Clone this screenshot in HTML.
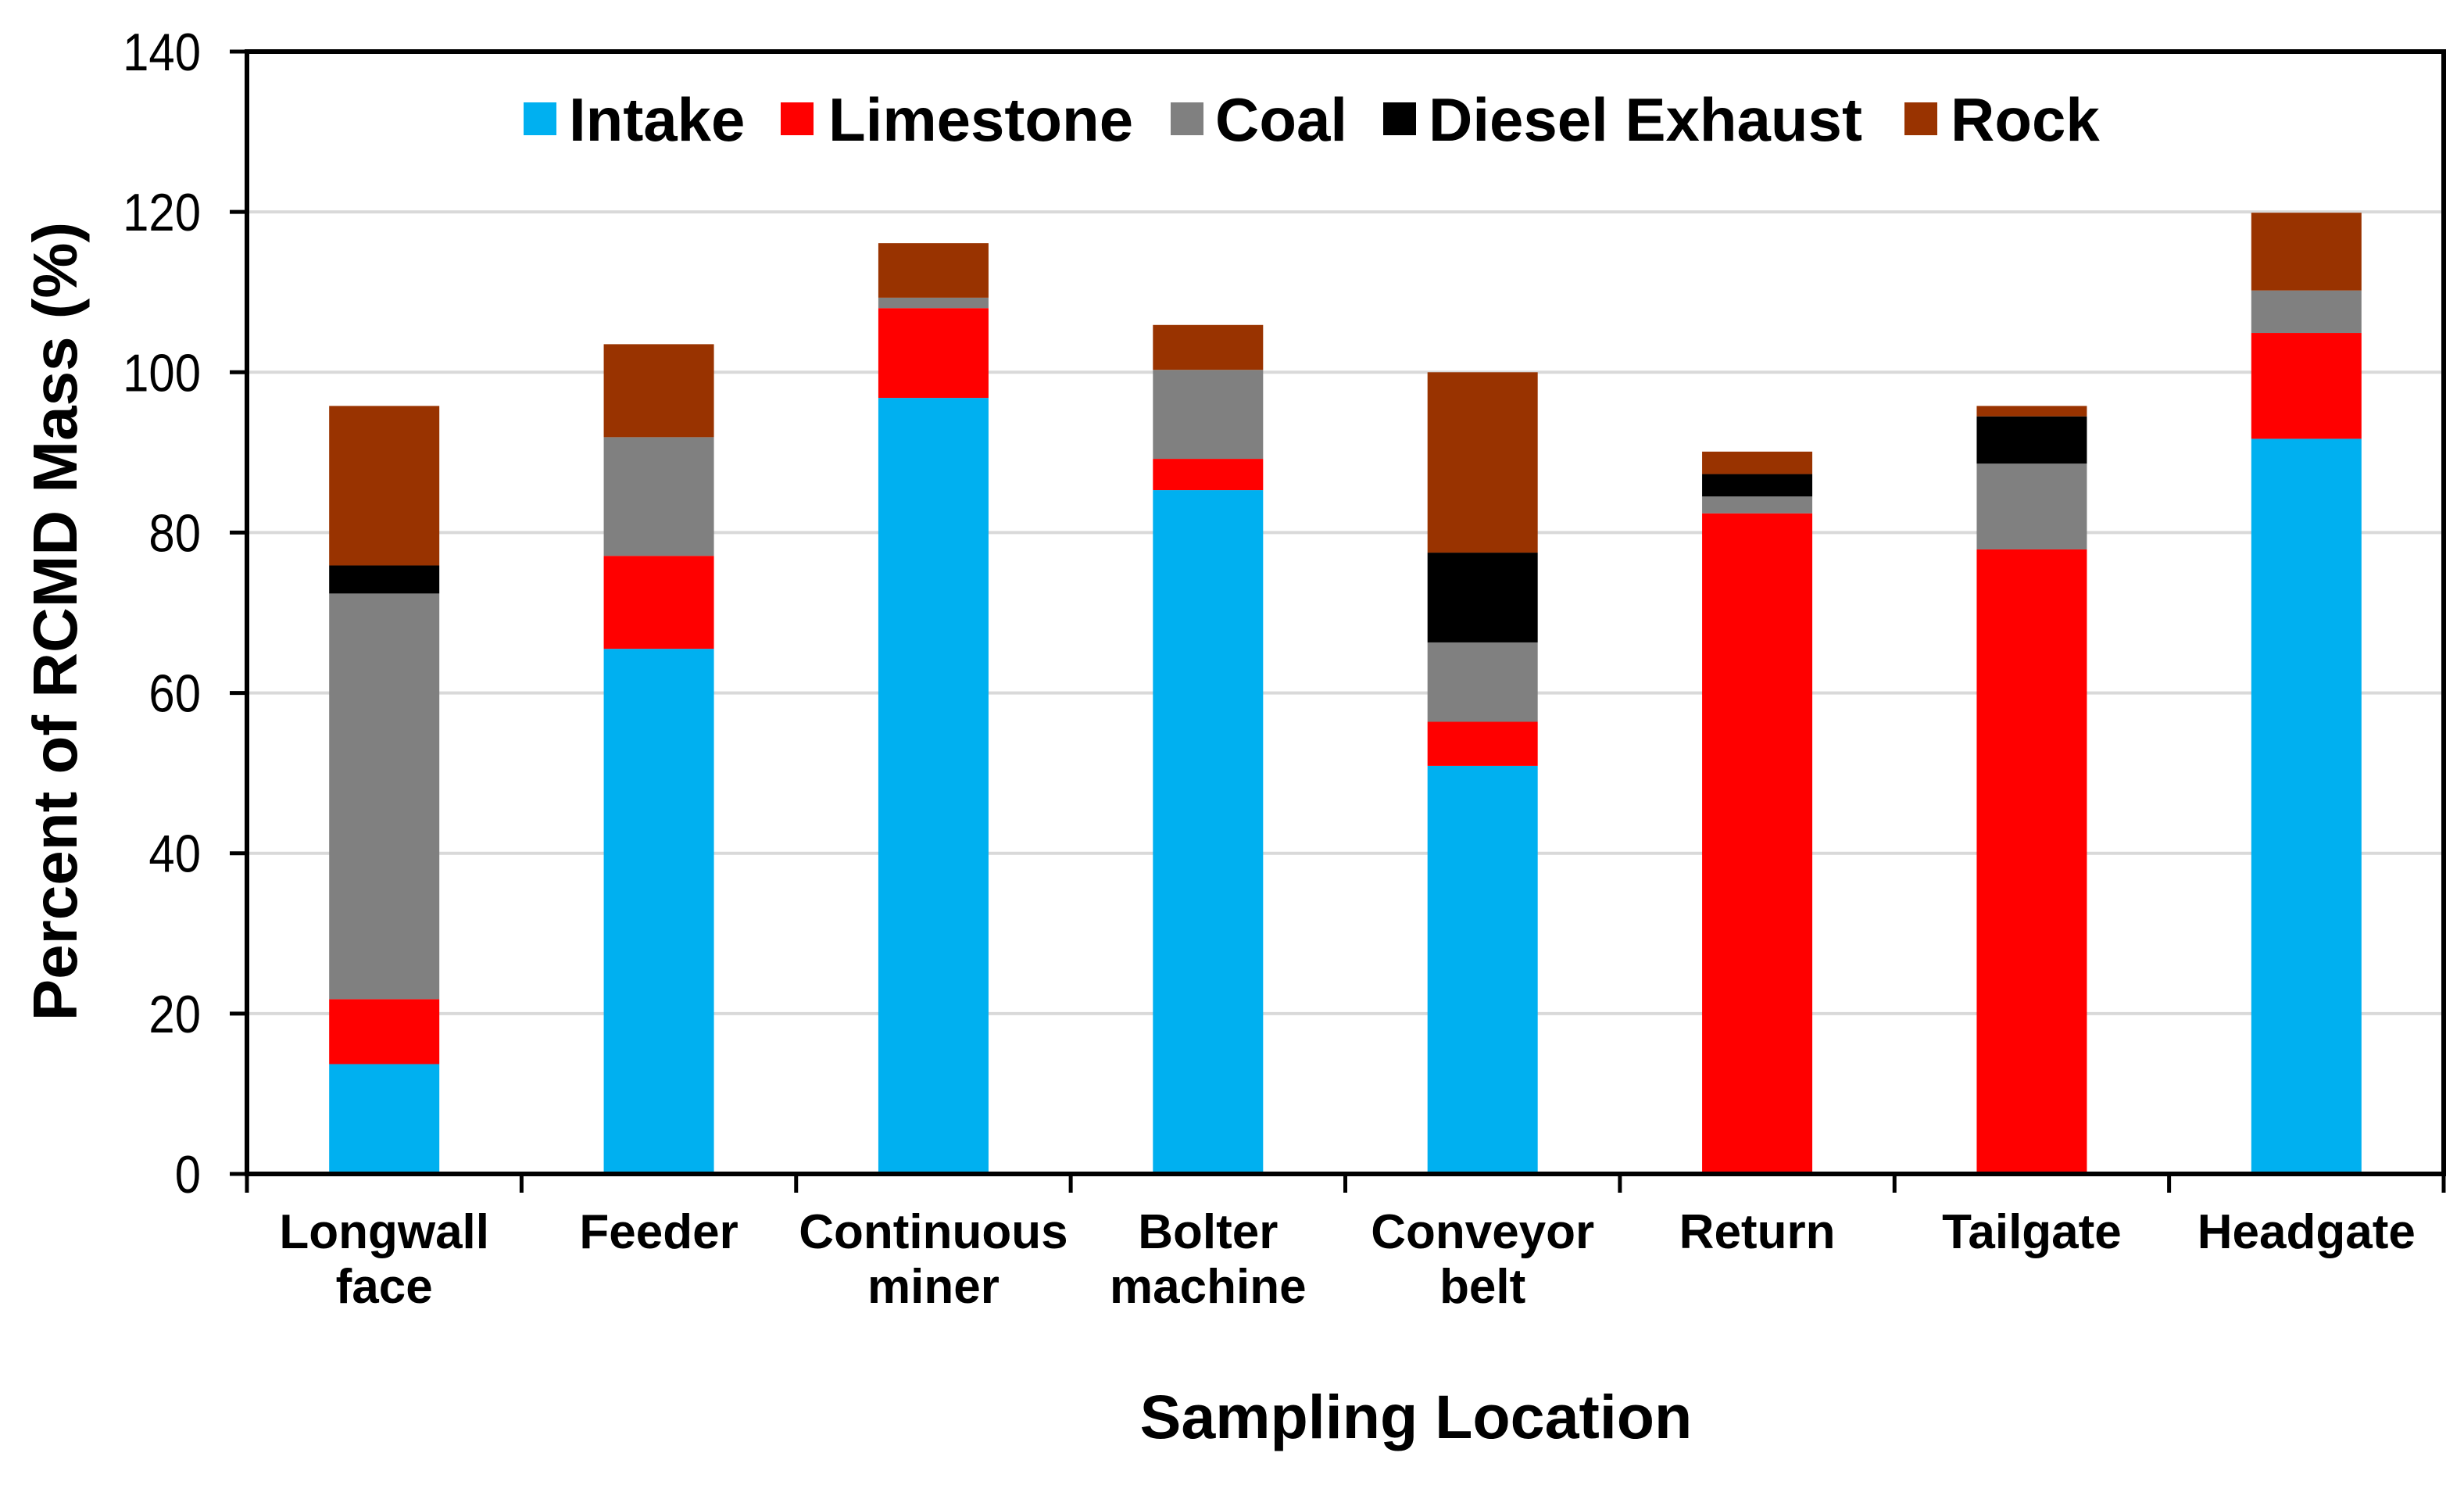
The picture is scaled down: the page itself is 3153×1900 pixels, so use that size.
<!DOCTYPE html>
<html><head><meta charset="utf-8"><style>
html,body{margin:0;padding:0;background:#fff;}
svg text{font-family:"Liberation Sans",Arial,sans-serif;}
</style></head><body>
<svg id="chart" width="3153" height="1895" viewBox="0 0 3153 1895" xmlns="http://www.w3.org/2000/svg">
<rect width="3153" height="1895" fill="#fff"/>
<g id="grid"></g><g id="bars"></g><g id="axes"></g><g id="labels"></g><g id="legend"></g>
</svg>
<script>
const categories=[["Longwall","face"],["Feeder"],["Continuous","miner"],["Bolter","machine"],["Conveyor","belt"],["Return"],["Tailgate"],["Headgate"]];
const seriesNames=["Intake","Limestone","Coal","Diesel Exhaust","Rock"];
const intake=[13.7,65.5,96.8,85.3,50.9,0,0,91.7];
const limestone=[8.1,11.6,11.2,3.9,5.5,82.4,77.9,13.2];
const coal=[50.6,14.8,1.3,11.1,9.9,2.1,10.7,5.3];
const diesel=[3.5,0,0,0,11.2,2.8,5.9,0];
const rock=[19.9,11.6,6.8,5.6,22.5,2.8,1.3,9.7];
const yTicks=[0,20,40,60,80,100,120,140];
const colors=["#00B0F0","#FF0000","#808080","#000000","#993300"];
const series=[intake,limestone,coal,diesel,rock];
const NS="http://www.w3.org/2000/svg";
const L=316,R=3127,T=66,B=1502,YMAX=140;
const cw=(R-L)/categories.length,bw=141;
function y(v){return B-(v/YMAX)*(B-T);}
function xc(i){return L+cw*(i+0.5);}
function mk(tag,attrs,parent){const e=document.createElementNS(NS,tag);for(const k in attrs)e.setAttribute(k,attrs[k]);parent.appendChild(e);return e;}
const grid=document.getElementById('grid'),bars=document.getElementById('bars'),axes=document.getElementById('axes'),labels=document.getElementById('labels'),legend=document.getElementById('legend');
yTicks.forEach(t=>{
  if(t>0&&t<YMAX){const g=mk('line',{x1:L,x2:R,y1:y(t),y2:y(t),stroke:'#d9d9d9','stroke-width':4},grid);
  
  }
  const tk=mk('line',{x1:L-22,x2:L,y1:y(t),y2:y(t),stroke:'#000','stroke-width':5},axes);
  
  
  const tx=mk('text',{x:0,y:0,transform:'translate(257,'+(y(t)+24)+') scale(0.88,1)','text-anchor':'end','font-size':68},labels);
  tx.textContent=t;
  
  
});
categories.forEach((c,i)=>{
  let acc=0;
  series.forEach((s,k)=>{
    const v=s[i];if(v<=0)return;
    const r=mk('rect',{x:xc(i)-bw/2,y:y(acc+v),width:bw,height:y(acc)-y(acc+v),fill:colors[k]},bars);
    
    
    acc+=v;
  });
  c.forEach((line,j)=>{
    const t=mk('text',{x:xc(i),y:1597+j*70,'text-anchor':'middle','font-size':62,'font-weight':'bold'},labels);
    t.textContent=line;
    
    
  });
});
for(let i=0;i<=categories.length;i++){
  const tk=mk('line',{x1:L+cw*i,x2:L+cw*i,y1:B,y2:B+24,stroke:'#000','stroke-width':5},axes);
  
  
}
const frame=mk('rect',{x:L,y:T,width:R-L,height:B-T,fill:'none',stroke:'#000','stroke-width':6},axes);


const yt=mk('text',{x:0,y:0,transform:'translate(98,795) rotate(-90)','text-anchor':'middle','font-size':80,'font-weight':'bold'},labels);
yt.textContent='Percent of RCMD Mass (%)';


const xt=mk('text',{x:1812,y:1840,'text-anchor':'middle','font-size':79,'font-weight':'bold'},labels);
xt.textContent='Sampling Location';


const legSw=[670,999,1498,1770,2437],legTx=[728,1060,1555,1828,2496];
seriesNames.forEach((n,k)=>{
  const sw=mk('rect',{x:legSw[k],y:131,width:42,height:42,fill:colors[k]},legend);
  
  
  const t=mk('text',{x:legTx[k],y:180,'font-size':78,'font-weight':'bold'},legend);
  t.textContent=n;
  
  
});
</script>
</body></html>
